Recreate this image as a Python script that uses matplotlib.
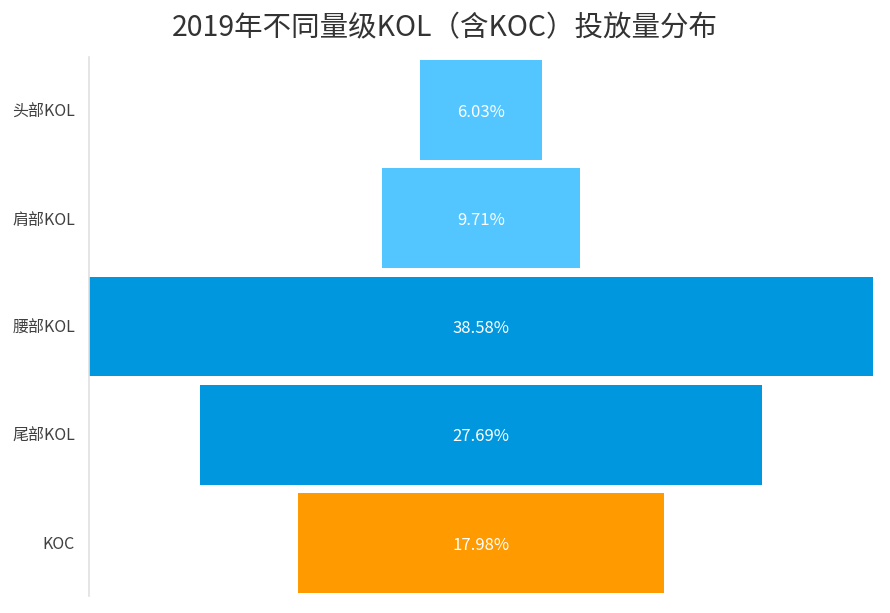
import matplotlib
matplotlib.use("Agg")
import matplotlib.pyplot as plt

plt.rcParams['font.family'] = ['Noto Sans CJK SC', 'DejaVu Sans']

categories = ["头部KOL", "肩部KOL", "腰部KOL", "尾部KOL", "KOC"]
values = [6.03, 9.71, 38.58, 27.69, 17.98]
colors = ["#54C6FF", "#54C6FF", "#0097DF", "#0097DF", "#FF9A00"]
title = "2019年不同量级KOL（含KOC）投放量分布"

fig = plt.figure(figsize=(8.9, 6.13), dpi=100)
ax = fig.add_axes([89/890, 1-596/613, (873-89)/890, (596-57)/613])

ypos = list(range(len(categories)))
lefts = [-v/2 for v in values]
ax.barh(ypos, values, left=lefts, height=0.92, color=colors)
for y, v in zip(ypos, values):
    ax.text(0, y + 0.02, f"{v:.2f}%", ha='center', va='center', color='white', fontsize=12)

m = max(values)
ax.set_xlim(-m/2, m/2)
ax.set_ylim(4.49, -0.49)
ax.set_yticks(ypos)
ax.set_yticklabels(categories, fontsize=11.5, color='#404040')
ax.tick_params(axis='y', length=0, pad=10)
ax.set_xticks([])
for s in ['top', 'right', 'bottom']:
    ax.spines[s].set_visible(False)
ax.spines['left'].set_color('#E0E0E0')
ax.spines['left'].set_linewidth(1.2)

fig.text(0.5, 1-28/613, title, ha='center', va='center', fontsize=20.5, color='#333333')

fig.savefig("out.png", dpi=100, facecolor='white')
